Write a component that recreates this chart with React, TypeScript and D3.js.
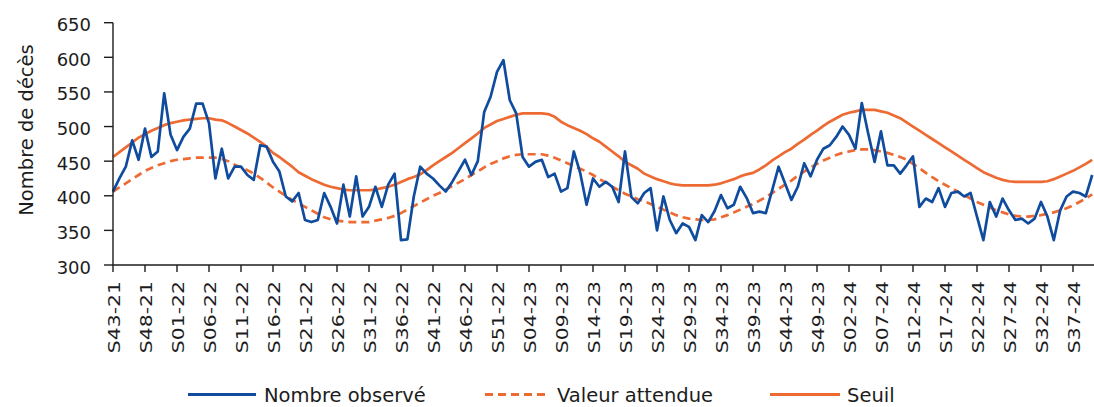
import React from "react";
import * as d3 from "d3";

// Week ranges: [year suffix, first week, last week]
const weekRanges: [string, number, number][] = [
  ["21", 43, 52],
  ["22", 1, 52],
  ["23", 1, 52],
  ["24", 1, 40],
];

const categories: string[] = weekRanges.flatMap(([yr, a, b]) =>
  d3.range(a, b + 1).map((w) => `S${String(w).padStart(2, "0")}-${yr}`)
);

const tickLabels = [
  "S43-21", "S48-21", "S01-22", "S06-22", "S11-22", "S16-22", "S21-22", "S26-22",
  "S31-22", "S36-22", "S41-22", "S46-22", "S51-22", "S04-23", "S09-23", "S14-23",
  "S19-23", "S24-23", "S29-23", "S34-23", "S39-23", "S44-23", "S49-23", "S02-24",
  "S07-24", "S12-24", "S17-24", "S22-24", "S27-24", "S32-24", "S37-24",
];

const yTicks = [300, 350, 400, 450, 500, 550, 600, 650];

const observed = [
  406, 425, 442, 480, 452, 497, 456, 464, 548, 488,
  466, 485, 497, 533, 533, 505, 425, 468, 425, 442,
  442, 430, 423, 473, 471, 449, 435, 399, 392, 404,
  365, 362, 365, 404, 384, 360, 416, 370, 428, 370,
  384, 413, 384, 416, 432, 336, 337, 399, 442, 432,
  425, 415, 406, 420, 436, 452, 430, 450, 521, 543,
  579, 596, 538, 519, 456, 442, 449, 452, 427, 432,
  406, 411, 464, 433, 387, 425, 413, 420, 413, 391,
  464, 398, 389, 404, 411, 350, 399, 365, 346, 360,
  355, 336, 372, 362, 378, 401, 382, 387, 413, 397,
  375, 377, 375, 408, 442, 418, 394, 413, 447, 428,
  452, 468, 473, 485, 500, 488, 468, 534, 490, 449,
  493, 444, 444, 432, 444, 457, 384, 396, 391, 411,
  384, 404, 406, 399, 404, 370, 336, 391, 370, 396,
  379, 365, 367, 360, 367, 391, 370, 336, 379, 399,
  406, 404, 399, 430,
];

const expected = [
  406, 412, 418, 424, 430, 436, 440, 444, 447, 450,
  452, 453, 454, 455, 455, 455, 455, 453, 450, 445,
  441, 437, 432, 426, 419, 412, 406, 400, 394, 389,
  384, 379, 374, 369, 366, 364, 363, 362, 362, 362,
  362, 364, 366, 368, 371, 375, 380, 385, 390, 395,
  400, 404, 409, 414, 419, 424, 430, 435, 441, 446,
  450, 454, 457, 459, 460, 460, 460, 460, 458, 455,
  451, 447, 443, 439, 435, 430, 424, 419, 413, 408,
  403, 399, 395, 392, 388, 384, 380, 376, 372, 369,
  367, 366, 365, 365, 366, 369, 372, 376, 380, 384,
  388, 393, 398, 404, 410, 416, 422, 429, 435, 441,
  446, 451, 455, 459, 462, 464, 466, 467, 467, 466,
  464, 462, 459, 456, 452, 446, 440, 433, 427, 421,
  416, 411, 406, 401, 396, 391, 387, 383, 379, 376,
  373, 371, 370, 370, 371, 372, 374, 376, 379, 382,
  386, 391, 396, 402,
];

const threshold = [
  456, 463, 470, 477, 484, 489, 494, 498, 502, 505,
  507, 509, 510, 511, 512, 512, 510, 509, 505, 500,
  495, 490, 484, 478, 471, 462, 456, 449, 442, 434,
  429, 424, 420, 416, 413, 411, 409, 408, 408, 408,
  408, 409, 411, 413, 416, 420, 424, 427, 431, 437,
  444, 450, 456, 462, 469, 476, 483, 490, 498, 503,
  508, 511, 514, 517, 519, 519, 519, 519, 518, 514,
  507, 502, 498, 494, 489, 483, 478, 471, 464, 457,
  449, 444, 439, 432, 428, 424, 421, 418, 416, 415,
  415, 415, 415, 415, 416, 418, 421, 424, 428, 431,
  433, 438, 444, 451, 457, 463, 468, 475, 481, 488,
  494, 501, 507, 512, 517, 520, 522, 524, 524, 524,
  522, 520, 516, 512, 506, 500, 494, 488, 482, 476,
  470, 464, 458, 452, 446, 440, 434, 430, 426, 423,
  421, 420, 420, 420, 420, 420, 421, 424, 428, 432,
  436, 441, 446, 452,
];

const seriesNames = ["Nombre observé", "Valeur attendue", "Seuil"];

const BLUE = "#0F4C9E";
const ORANGE = "#EE6A33";
const INK = "#1c1c1c";
const FONT = "'DejaVu Sans', sans-serif";

export default function App() {
  const W = 1094;
  const H = 407;
  const xLeft = 113;
  const xRight = 113 + (categories.length - 1) * 6.4;
  const yTop = 22.7;
  const yBottom = 265;

  const x = d3.scalePoint<string>().domain(categories).range([xLeft, xRight]);
  const y = d3.scaleLinear().domain([300, 650]).range([yBottom, yTop]);

  const line = d3
    .line<number>()
    .x((_, i) => x(categories[i]) as number)
    .y((d) => y(d));

  const legendY = 394.5;
  const legendBase = 401.5;

  return (
    <div style={{ position: "absolute", left: 0, top: 0 }}>
      <svg width={W} height={H} style={{ display: "block", background: "#fff" }}>
        {/* series */}
        <path d={line(expected) || ""} fill="none" stroke={ORANGE} strokeWidth={2.7} strokeDasharray="8,5" />
        <path d={line(threshold) || ""} fill="none" stroke={ORANGE} strokeWidth={2.7} strokeLinejoin="round" />
        <path d={line(observed) || ""} fill="none" stroke={BLUE} strokeWidth={2.7} strokeLinejoin="round" />

        {/* y axis */}
        <line x1={xLeft} x2={xLeft} y1={yTop} y2={yBottom} stroke={INK} strokeWidth={1.4} />
        {yTicks.map((t) => (
          <g key={t}>
            <line x1={xLeft - 9} x2={xLeft} y1={y(t)} y2={y(t)} stroke={INK} strokeWidth={1.4} />
            <text
              x={91}
              y={y(t) + 2}
              textAnchor="end"
              dominantBaseline="central"
              fontFamily={FONT}
              fontSize={18}
              fill={INK}
            >
              {t}
            </text>
          </g>
        ))}
        <text
          transform={`translate(33,130) rotate(-90)`}
          textAnchor="middle"
          fontFamily={FONT}
          fontSize={19.5}
          fill={INK}
        >
          Nombre de décès
        </text>

        {/* x axis */}
        <line x1={xLeft} x2={W} y1={yBottom} y2={yBottom} stroke={INK} strokeWidth={1.4} />
        {tickLabels.map((lab) => {
          const px = x(lab) as number;
          return (
            <g key={lab}>
              <line x1={px} x2={px} y1={yBottom} y2={yBottom + 7} stroke={INK} strokeWidth={1.4} />
              <text
                transform={`translate(${px + 2},281) rotate(-90) scale(1.36,1)`}
                textAnchor="end"
                dy="0.36em"
                fontFamily={FONT}
                fontSize={15}
                fill={INK}
              >
                {lab}
              </text>
            </g>
          );
        })}

        {/* legend */}
        <g>
          <line x1={188} x2={256} y1={legendY} y2={legendY} stroke={BLUE} strokeWidth={3} />
          <text x={264} y={legendBase} fontFamily={FONT} fontSize={19.5} fill={INK}>
            {seriesNames[0]}
          </text>
          <line x1={485} x2={550} y1={legendY} y2={legendY} stroke={ORANGE} strokeWidth={3} strokeDasharray="8,5" />
          <text x={557} y={legendBase} fontFamily={FONT} fontSize={19.5} fill={INK}>
            {seriesNames[1]}
          </text>
          <line x1={770} x2={840} y1={legendY} y2={legendY} stroke={ORANGE} strokeWidth={3} />
          <text x={847} y={legendBase} fontFamily={FONT} fontSize={19.5} fill={INK}>
            {seriesNames[2]}
          </text>
        </g>
      </svg>
    </div>
  );
}
